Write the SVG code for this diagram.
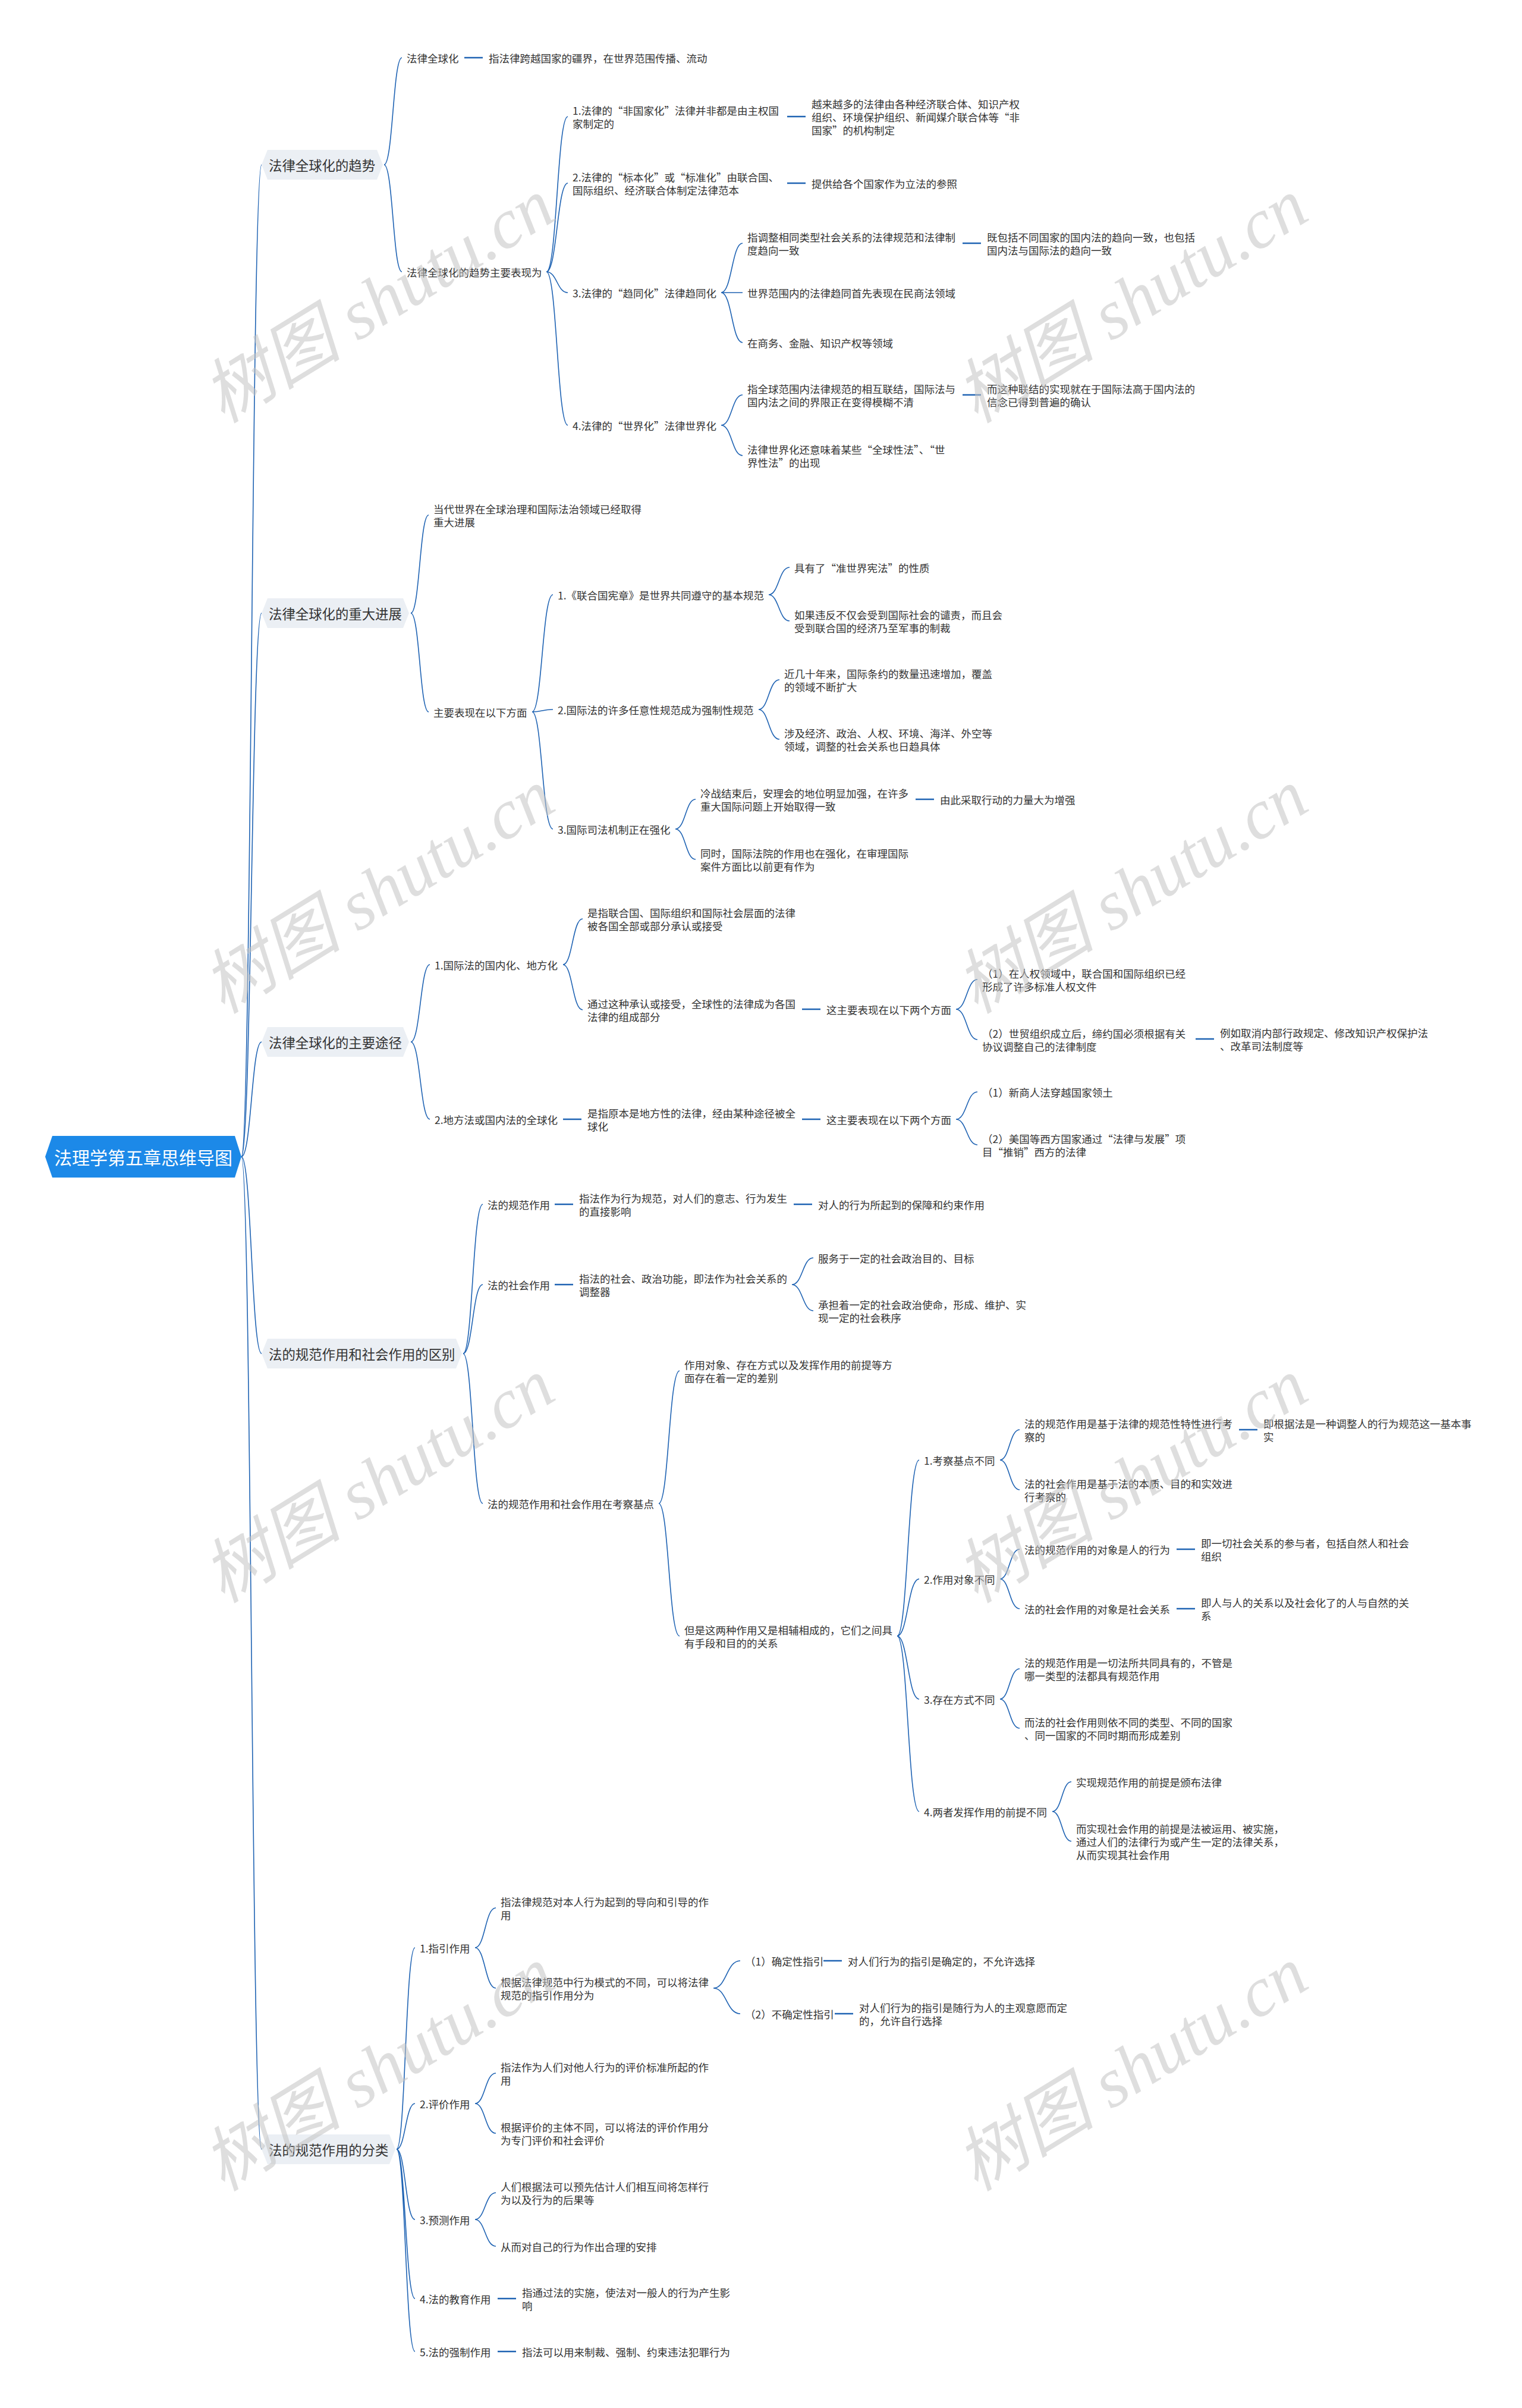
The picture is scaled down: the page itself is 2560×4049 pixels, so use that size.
<svg xmlns="http://www.w3.org/2000/svg" width="2560" height="4049" viewBox="0 0 2560 4049">
<defs><style>
text{font-family:"Noto Sans CJK SC","Microsoft YaHei",sans-serif;dominant-baseline:central}
.t{font-size:17.5px;fill:#333}
.b{font-size:22.4px;fill:#333}
.r{font-size:30px;fill:#fff;text-anchor:middle}
.c{fill:none;stroke:#1f63b3;stroke-width:1.6}
.d{stroke:#1f63b3;stroke-width:2.6}
.bx{fill:#ebeff4}
.wm{font-family:"Liberation Serif","Noto Sans CJK SC",serif;font-style:italic;font-size:118px;fill:#c4c4c4;opacity:.55;text-anchor:middle;dominant-baseline:auto}
</style></defs>
<rect width="2560" height="4049" fill="#fff"/>
<g id="connectors">
<path class="c" d="M406 1945C423 1945 423 277 440 277M406 1945C423 1945 423 1031 440 1031M406 1945C423 1945 423 1752 440 1752M406 1945C423 1945 423 2276 440 2276M406 1945C423 1945 423 3614 440 3614"/>
<path class="c" d="M646 277C661 277 661 97 676 97M646 277C661 277 661 457 676 457"/>
<path class="c" d="M919 457C937 457 937 196 955 196M919 457C937 457 937 308 955 308M919 457C937 457 937 492 955 492M919 457C937 457 937 715 955 715"/>
<path class="c" d="M1213 492C1231 492 1231 409 1249 409M1213 492C1231 492 1231 492 1249 492M1213 492C1231 492 1231 576 1249 576"/>
<path class="c" d="M1213 715C1231 715 1231 664 1249 664M1213 715C1231 715 1231 766 1249 766"/>
<path class="c" d="M691 1031C706 1031 706 866 721 866M691 1031C706 1031 706 1197 721 1197"/>
<path class="c" d="M895 1197C912 1197 912 1000 930 1000M895 1197C912 1197 912 1193 930 1193M895 1197C912 1197 912 1394 930 1394"/>
<path class="c" d="M1293 1000C1310 1000 1310 954 1328 954M1293 1000C1310 1000 1310 1044 1328 1044"/>
<path class="c" d="M1276 1193C1293 1193 1293 1143 1311 1143M1276 1193C1293 1193 1293 1243 1311 1243"/>
<path class="c" d="M1136 1394C1153 1394 1153 1344 1170 1344M1136 1394C1153 1394 1153 1445 1170 1445"/>
<path class="c" d="M691 1752C707 1752 707 1622 723 1622M691 1752C707 1752 707 1882 723 1882"/>
<path class="c" d="M947 1622C963 1622 963 1545 980 1545M947 1622C963 1622 963 1698 980 1698"/>
<path class="c" d="M1608 1697C1626 1697 1626 1647 1644 1647M1608 1697C1626 1697 1626 1748 1644 1748"/>
<path class="c" d="M1608 1882C1626 1882 1626 1836 1644 1836M1608 1882C1626 1882 1626 1925 1644 1925"/>
<path class="c" d="M779 2276C795 2276 795 2025 812 2025M779 2276C795 2276 795 2160 812 2160M779 2276C795 2276 795 2528 812 2528"/>
<path class="c" d="M1332 2160C1350 2160 1350 2115 1368 2115M1332 2160C1350 2160 1350 2204 1368 2204"/>
<path class="c" d="M1108 2528C1125 2528 1125 2305 1143 2305M1108 2528C1125 2528 1125 2751 1143 2751"/>
<path class="c" d="M1509 2751C1527 2751 1527 2455 1546 2455M1509 2751C1527 2751 1527 2655 1546 2655M1509 2751C1527 2751 1527 2857 1546 2857M1509 2751C1527 2751 1527 3046 1546 3046"/>
<path class="c" d="M1682 2455C1698 2455 1698 2404 1715 2404M1682 2455C1698 2455 1698 2505 1715 2505"/>
<path class="c" d="M1682 2655C1698 2655 1698 2605 1715 2605M1682 2655C1698 2655 1698 2705 1715 2705"/>
<path class="c" d="M1682 2857C1698 2857 1698 2806 1715 2806M1682 2857C1698 2857 1698 2906 1715 2906"/>
<path class="c" d="M1770 3046C1786 3046 1786 2996 1802 2996M1770 3046C1786 3046 1786 3096 1802 3096"/>
<path class="c" d="M667 3614C682 3614 682 3275 698 3275M667 3614C682 3614 682 3537 698 3537M667 3614C682 3614 682 3732 698 3732M667 3614C682 3614 682 3865 698 3865M667 3614C682 3614 682 3954 698 3954"/>
<path class="c" d="M799 3275C816 3275 816 3208 834 3208M799 3275C816 3275 816 3343 834 3343"/>
<path class="c" d="M1200 3343C1222 3343 1222 3297 1245 3297M1200 3343C1222 3343 1222 3386 1245 3386"/>
<path class="c" d="M799 3537C816 3537 816 3486 834 3486M799 3537C816 3537 816 3587 834 3587"/>
<path class="c" d="M799 3732C816 3732 816 3687 834 3687M799 3732C816 3732 816 3777 834 3777"/>
<path class="d" d="M781 97H812M1324 196H1355M1324 308H1355M1619 409H1650M1619 664H1650M1540 1344H1571M1349 1697H1380M2011 1747H2042M947 1882H978M1349 1882H1380M933 2025H964M1335 2025H1366M933 2160H964M2084 2404H2115M1979 2605H2010M1979 2705H2010M1385 3297H1416M1404 3386H1435M837 3865H868M837 3954H868"/>
</g>
<g id="root"><polygon points="76,1945 88,1910 395,1910 406,1945 395,1980 88,1980" fill="#1c89e8"/><text class="r" x="241" y="1945">法理学第五章思维导图</text></g>
<g id="b1"><polygon class="bx" points="440,277 450,252 634,252 644,277 634,302 450,302"/><text class="b" x="452" y="277">法律全球化的趋势</text></g>
<g id="b2"><polygon class="bx" points="440,1031 450,1006 678,1006 688,1031 678,1056 450,1056"/><text class="b" x="452" y="1031">法律全球化的重大进展</text></g>
<g id="b3"><polygon class="bx" points="440,1752 450,1727 678,1727 688,1752 678,1777 450,1777"/><text class="b" x="452" y="1752">法律全球化的主要途径</text></g>
<g id="b4"><polygon class="bx" points="440,2276 450,2251 767,2251 777,2276 767,2301 450,2301"/><text class="b" x="452" y="2276">法的规范作用和社会作用的区别</text></g>
<g id="b5"><polygon class="bx" points="440,3614 450,3589 655,3589 665,3614 655,3639 450,3639"/><text class="b" x="452" y="3614">法的规范作用的分类</text></g>
<g id="n1"><text class="t" x="684" y="97">法律全球化</text></g>
<g id="n1a"><text class="t" x="822" y="97">指法律跨越国家的疆界，在世界范围传播、流动</text></g>
<g id="n2"><text class="t" x="684" y="457">法律全球化的趋势主要表现为</text></g>
<g id="n2-1"><text class="t"><tspan x="963" y="185">1.法律的“非国家化”法律并非都是由主权国</tspan><tspan x="963" y="207">家制定的</tspan></text></g>
<g id="n2-1a"><text class="t"><tspan x="1365" y="174">越来越多的法律由各种经济联合体、知识产权</tspan><tspan x="1365" y="196">组织、环境保护组织、新闻媒介联合体等“非</tspan><tspan x="1365" y="218">国家”的机构制定</tspan></text></g>
<g id="n2-2"><text class="t"><tspan x="963" y="297">2.法律的“标本化”或“标准化”由联合国、</tspan><tspan x="963" y="319">国际组织、经济联合体制定法律范本</tspan></text></g>
<g id="n2-2a"><text class="t" x="1365" y="308">提供给各个国家作为立法的参照</text></g>
<g id="n2-3"><text class="t" x="963" y="492">3.法律的“趋同化”法律趋同化</text></g>
<g id="n2-3a"><text class="t"><tspan x="1257" y="398">指调整相同类型社会关系的法律规范和法律制</tspan><tspan x="1257" y="420">度趋向一致</tspan></text></g>
<g id="n2-3a1"><text class="t"><tspan x="1660" y="398">既包括不同国家的国内法的趋向一致，也包括</tspan><tspan x="1660" y="420">国内法与国际法的趋向一致</tspan></text></g>
<g id="n2-3b"><text class="t" x="1257" y="492">世界范围内的法律趋同首先表现在民商法领域</text></g>
<g id="n2-3c"><text class="t" x="1257" y="576">在商务、金融、知识产权等领域</text></g>
<g id="n2-4"><text class="t" x="963" y="715">4.法律的“世界化”法律世界化</text></g>
<g id="n2-4a"><text class="t"><tspan x="1257" y="653">指全球范围内法律规范的相互联结，国际法与</tspan><tspan x="1257" y="675">国内法之间的界限正在变得模糊不清</tspan></text></g>
<g id="n2-4a1"><text class="t"><tspan x="1660" y="653">而这种联结的实现就在于国际法高于国内法的</tspan><tspan x="1660" y="675">信念已得到普遍的确认</tspan></text></g>
<g id="n2-4b"><text class="t"><tspan x="1257" y="755">法律世界化还意味着某些“全球性法”、“世</tspan><tspan x="1257" y="777">界性法”的出现</tspan></text></g>
<g id="n3-1"><text class="t"><tspan x="729" y="855">当代世界在全球治理和国际法治领域已经取得</tspan><tspan x="729" y="877">重大进展</tspan></text></g>
<g id="n3-2"><text class="t" x="729" y="1197">主要表现在以下方面</text></g>
<g id="n3-2-1"><text class="t" x="938" y="1000">1.《联合国宪章》是世界共同遵守的基本规范</text></g>
<g id="n3-2-1a"><text class="t" x="1336" y="954">具有了“准世界宪法”的性质</text></g>
<g id="n3-2-1b"><text class="t"><tspan x="1336" y="1033">如果违反不仅会受到国际社会的谴责，而且会</tspan><tspan x="1336" y="1055">受到联合国的经济乃至军事的制裁</tspan></text></g>
<g id="n3-2-2"><text class="t" x="938" y="1193">2.国际法的许多任意性规范成为强制性规范</text></g>
<g id="n3-2-2a"><text class="t"><tspan x="1319" y="1132">近几十年来，国际条约的数量迅速增加，覆盖</tspan><tspan x="1319" y="1154">的领域不断扩大</tspan></text></g>
<g id="n3-2-2b"><text class="t"><tspan x="1319" y="1232">涉及经济、政治、人权、环境、海洋、外空等</tspan><tspan x="1319" y="1254">领域，调整的社会关系也日趋具体</tspan></text></g>
<g id="n3-2-3"><text class="t" x="938" y="1394">3.国际司法机制正在强化</text></g>
<g id="n3-2-3a"><text class="t"><tspan x="1178" y="1333">冷战结束后，安理会的地位明显加强，在许多</tspan><tspan x="1178" y="1355">重大国际问题上开始取得一致</tspan></text></g>
<g id="n3-2-3a1"><text class="t" x="1581" y="1344">由此采取行动的力量大为增强</text></g>
<g id="n3-2-3b"><text class="t"><tspan x="1178" y="1434">同时，国际法院的作用也在强化，在审理国际</tspan><tspan x="1178" y="1456">案件方面比以前更有作为</tspan></text></g>
<g id="n4-1"><text class="t" x="731" y="1622">1.国际法的国内化、地方化</text></g>
<g id="n4-1a"><text class="t"><tspan x="988" y="1534">是指联合国、国际组织和国际社会层面的法律</tspan><tspan x="988" y="1556">被各国全部或部分承认或接受</tspan></text></g>
<g id="n4-1b"><text class="t"><tspan x="988" y="1687">通过这种承认或接受，全球性的法律成为各国</tspan><tspan x="988" y="1709">法律的组成部分</tspan></text></g>
<g id="n4-1b1"><text class="t" x="1390" y="1697">这主要表现在以下两个方面</text></g>
<g id="n4-1b1a"><text class="t"><tspan x="1652" y="1636">（1）在人权领域中，联合国和国际组织已经</tspan><tspan x="1652" y="1658">形成了许多标准人权文件</tspan></text></g>
<g id="n4-1b1b"><text class="t"><tspan x="1652" y="1737">（2）世贸组织成立后，缔约国必须根据有关</tspan><tspan x="1652" y="1759">协议调整自己的法律制度</tspan></text></g>
<g id="n4-1b1b1"><text class="t"><tspan x="2052" y="1736">例如取消内部行政规定、修改知识产权保护法</tspan><tspan x="2052" y="1758">、改革司法制度等</tspan></text></g>
<g id="n4-2"><text class="t" x="731" y="1882">2.地方法或国内法的全球化</text></g>
<g id="n4-2a"><text class="t"><tspan x="988" y="1871">是指原本是地方性的法律，经由某种途径被全</tspan><tspan x="988" y="1893">球化</tspan></text></g>
<g id="n4-2a1"><text class="t" x="1390" y="1882">这主要表现在以下两个方面</text></g>
<g id="n4-2a1a"><text class="t" x="1652" y="1836">（1）新商人法穿越国家领土</text></g>
<g id="n4-2a1b"><text class="t"><tspan x="1652" y="1914">（2）美国等西方国家通过“法律与发展”项</tspan><tspan x="1652" y="1936">目“推销”西方的法律</tspan></text></g>
<g id="n5-1"><text class="t" x="820" y="2025">法的规范作用</text></g>
<g id="n5-1a"><text class="t"><tspan x="974" y="2014">指法作为行为规范，对人们的意志、行为发生</tspan><tspan x="974" y="2036">的直接影响</tspan></text></g>
<g id="n5-1a1"><text class="t" x="1376" y="2025">对人的行为所起到的保障和约束作用</text></g>
<g id="n5-2"><text class="t" x="820" y="2160">法的社会作用</text></g>
<g id="n5-2a"><text class="t"><tspan x="974" y="2149">指法的社会、政治功能，即法作为社会关系的</tspan><tspan x="974" y="2171">调整器</tspan></text></g>
<g id="n5-2a1"><text class="t" x="1376" y="2115">服务于一定的社会政治目的、目标</text></g>
<g id="n5-2a2"><text class="t"><tspan x="1376" y="2193">承担着一定的社会政治使命，形成、维护、实</tspan><tspan x="1376" y="2215">现一定的社会秩序</tspan></text></g>
<g id="n5-3"><text class="t" x="820" y="2528">法的规范作用和社会作用在考察基点</text></g>
<g id="n5-3a"><text class="t"><tspan x="1151" y="2294">作用对象、存在方式以及发挥作用的前提等方</tspan><tspan x="1151" y="2316">面存在着一定的差别</tspan></text></g>
<g id="n5-3b"><text class="t"><tspan x="1151" y="2740">但是这两种作用又是相辅相成的，它们之间具</tspan><tspan x="1151" y="2762">有手段和目的的关系</tspan></text></g>
<g id="n5-3b1"><text class="t" x="1554" y="2455">1.考察基点不同</text></g>
<g id="n5-3b1a"><text class="t"><tspan x="1723" y="2393">法的规范作用是基于法律的规范性特性进行考</tspan><tspan x="1723" y="2415">察的</tspan></text></g>
<g id="n5-3b1a1"><text class="t"><tspan x="2125" y="2393">即根据法是一种调整人的行为规范这一基本事</tspan><tspan x="2125" y="2415">实</tspan></text></g>
<g id="n5-3b1b"><text class="t"><tspan x="1723" y="2494">法的社会作用是基于法的本质、目的和实效进</tspan><tspan x="1723" y="2516">行考察的</tspan></text></g>
<g id="n5-3b2"><text class="t" x="1554" y="2655">2.作用对象不同</text></g>
<g id="n5-3b2a"><text class="t" x="1723" y="2605">法的规范作用的对象是人的行为</text></g>
<g id="n5-3b2a1"><text class="t"><tspan x="2020" y="2594">即一切社会关系的参与者，包括自然人和社会</tspan><tspan x="2020" y="2616">组织</tspan></text></g>
<g id="n5-3b2b"><text class="t" x="1723" y="2705">法的社会作用的对象是社会关系</text></g>
<g id="n5-3b2b1"><text class="t"><tspan x="2020" y="2694">即人与人的关系以及社会化了的人与自然的关</tspan><tspan x="2020" y="2716">系</tspan></text></g>
<g id="n5-3b3"><text class="t" x="1554" y="2857">3.存在方式不同</text></g>
<g id="n5-3b3a"><text class="t"><tspan x="1723" y="2795">法的规范作用是一切法所共同具有的，不管是</tspan><tspan x="1723" y="2817">哪一类型的法都具有规范作用</tspan></text></g>
<g id="n5-3b3b"><text class="t"><tspan x="1723" y="2895">而法的社会作用则依不同的类型、不同的国家</tspan><tspan x="1723" y="2917">、同一国家的不同时期而形成差别</tspan></text></g>
<g id="n5-3b4"><text class="t" x="1554" y="3046">4.两者发挥作用的前提不同</text></g>
<g id="n5-3b4a"><text class="t" x="1810" y="2996">实现规范作用的前提是颁布法律</text></g>
<g id="n5-3b4b"><text class="t"><tspan x="1810" y="3074">而实现社会作用的前提是法被运用、被实施，</tspan><tspan x="1810" y="3096">通过人们的法律行为或产生一定的法律关系，</tspan><tspan x="1810" y="3118">从而实现其社会作用</tspan></text></g>
<g id="n6-1"><text class="t" x="706" y="3275">1.指引作用</text></g>
<g id="n6-1a"><text class="t"><tspan x="842" y="3197">指法律规范对本人行为起到的导向和引导的作</tspan><tspan x="842" y="3219">用</tspan></text></g>
<g id="n6-1b"><text class="t"><tspan x="842" y="3332">根据法律规范中行为模式的不同，可以将法律</tspan><tspan x="842" y="3354">规范的指引作用分为</tspan></text></g>
<g id="n6-1b1"><text class="t" x="1253" y="3297">（1）确定性指引</text></g>
<g id="n6-1b1a"><text class="t" x="1426" y="3297">对人们行为的指引是确定的，不允许选择</text></g>
<g id="n6-1b2"><text class="t" x="1253" y="3386">（2）不确定性指引</text></g>
<g id="n6-1b2a"><text class="t"><tspan x="1445" y="3375">对人们行为的指引是随行为人的主观意愿而定</tspan><tspan x="1445" y="3397">的，允许自行选择</tspan></text></g>
<g id="n6-2"><text class="t" x="706" y="3537">2.评价作用</text></g>
<g id="n6-2a"><text class="t"><tspan x="842" y="3475">指法作为人们对他人行为的评价标准所起的作</tspan><tspan x="842" y="3497">用</tspan></text></g>
<g id="n6-2b"><text class="t"><tspan x="842" y="3576">根据评价的主体不同，可以将法的评价作用分</tspan><tspan x="842" y="3598">为专门评价和社会评价</tspan></text></g>
<g id="n6-3"><text class="t" x="706" y="3732">3.预测作用</text></g>
<g id="n6-3a"><text class="t"><tspan x="842" y="3676">人们根据法可以预先估计人们相互间将怎样行</tspan><tspan x="842" y="3698">为以及行为的后果等</tspan></text></g>
<g id="n6-3b"><text class="t" x="842" y="3777">从而对自己的行为作出合理的安排</text></g>
<g id="n6-4"><text class="t" x="706" y="3865">4.法的教育作用</text></g>
<g id="n6-4a"><text class="t"><tspan x="878" y="3854">指通过法的实施，使法对一般人的行为产生影</tspan><tspan x="878" y="3876">响</tspan></text></g>
<g id="n6-5"><text class="t" x="706" y="3954">5.法的强制作用</text></g>
<g id="n6-5a"><text class="t" x="878" y="3954">指法可以用来制裁、强制、约束违法犯罪行为</text></g>
<g id="watermarks">
<text class="wm" x="640" y="545" transform="rotate(-31.5 640 512)">树图 shutu.cn</text>
<text class="wm" x="1907" y="545" transform="rotate(-31.5 1907 512)">树图 shutu.cn</text>
<text class="wm" x="640" y="1538" transform="rotate(-31.5 640 1505)">树图 shutu.cn</text>
<text class="wm" x="1907" y="1538" transform="rotate(-31.5 1907 1505)">树图 shutu.cn</text>
<text class="wm" x="640" y="2529" transform="rotate(-31.5 640 2496)">树图 shutu.cn</text>
<text class="wm" x="1907" y="2529" transform="rotate(-31.5 1907 2496)">树图 shutu.cn</text>
<text class="wm" x="640" y="3518" transform="rotate(-31.5 640 3485)">树图 shutu.cn</text>
<text class="wm" x="1907" y="3518" transform="rotate(-31.5 1907 3485)">树图 shutu.cn</text>
</g>
</svg>
